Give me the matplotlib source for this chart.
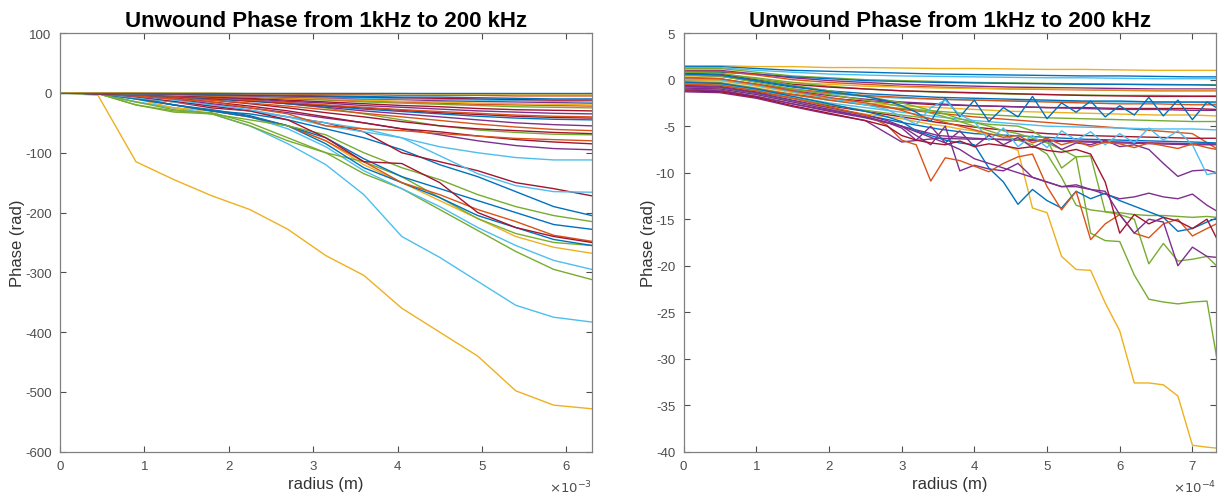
import matplotlib
matplotlib.use("Agg")
import matplotlib.pyplot as plt

plt.rcParams["font.family"] = ["Liberation Sans", "DejaVu Sans"]
plt.rcParams["axes.unicode_minus"] = False

# MATLAB default colour order
BLUE, ORANGE, YELLOW, PURPLE = "#0072BD", "#D95319", "#EDB120", "#7E2F8E"
GREEN, CYAN, RED = "#77AC30", "#4DBEEE", "#A2142F"

TITLE = "Unwound Phase from 1kHz to 200 kHz"

# ---------------- left panel: radius in units of 1e-3 m ----------------
L_X = [0, 0.45, 0.9, 1.35, 1.8, 2.25, 2.7, 3.15, 3.6, 4.05, 4.5, 4.95, 5.4, 5.85, 6.3]

L_LINES = [
    (YELLOW, [0, -4, -115, -145, -172, -195, -228, -272, -305, -360, -400, -440, -498, -522, -528]),
    (CYAN,   [0, -2, -15, -25, -35, -55, -85, -120, -170, -240, -275, -315, -355, -375, -383]),
    (GREEN,  [0, -1, -20, -30, -33, -50, -75, -100, -135, -160, -195, -230, -265, -295, -312]),
    (CYAN,   [0, -1, -15, -25, -30, -40, -60, -90, -130, -160, -190, -225, -255, -280, -295]),
    (YELLOW, [0, -1, -10, -25, -30, -40, -55, -80, -120, -150, -180, -210, -240, -258, -268]),
    (GREEN,  [0, -1, -20, -32, -35, -55, -80, -100, -115, -140, -175, -210, -235, -250, -255]),
    (BLUE,   [0, -1, -8, -20, -28, -38, -55, -85, -125, -150, -175, -205, -225, -245, -255]),
    (ORANGE, [0, -1, -8, -20, -30, -40, -55, -80, -115, -150, -170, -195, -215, -238, -248]),
    (BLUE,   [0, -1, -10, -20, -30, -40, -55, -75, -110, -140, -160, -180, -200, -220, -228]),
    (GREEN,  [0, -1, -15, -28, -35, -45, -55, -70, -100, -125, -145, -170, -190, -205, -215]),
    (BLUE,   [0, -1, -10, -20, -30, -35, -45, -60, -75, -95, -120, -140, -165, -190, -205]),
    (RED,    [0, -1, -8, -15, -25, -30, -40, -50, -65, -100, -115, -130, -150, -160, -172]),
    (CYAN,   [0, -1, -8, -15, -22, -30, -40, -50, -60, -75, -105, -135, -155, -165, -166]),
    (RED,    [0, -1, -6, -14, -22, -30, -45, -75, -115, -118, -150, -200, -225, -240, -250]),
    (CYAN,   [0, -1, -5, -12, -20, -28, -40, -55, -65, -75, -90, -100, -108, -112, -112]),
    (PURPLE, [0, -1, -5, -10, -18, -25, -33, -42, -50, -60, -70, -80, -88, -93, -95]),
    (RED,    [0, -1, -4, -8, -15, -22, -30, -40, -50, -60, -65, -72, -78, -82, -85]),
    (ORANGE, [0, -1, -5, -10, -15, -25, -35, -55, -60, -63, -68, -72, -76, -78, -80]),
    (GREEN,  [0, -1, -2, -4, -8, -12, -18, -25, -35, -45, -55, -62, -66, -69, -70]),
    (RED,    [0, -1, -3, -6, -12, -18, -25, -33, -40, -48, -55, -60, -63, -66, -68]),
    (ORANGE, [0, -1, -3, -7, -12, -17, -22, -28, -34, -40, -46, -52, -57, -61, -63]),
    (PURPLE, [0, -1, -2, -5, -8, -12, -18, -24, -30, -35, -40, -45, -50, -53, -55]),
    (BLUE,   [0, -1, -3, -6, -10, -14, -18, -22, -27, -31, -35, -39, -42, -44, -45]),
    (RED,    [0, -1, -3, -5, -9, -13, -17, -21, -25, -29, -33, -36, -39, -41, -42]),
    (ORANGE, [0, -1, -3, -5, -8, -12, -16, -20, -24, -28, -31, -34, -37, -39, -40]),
    (PURPLE, [0, -1, -2, -4, -7, -10, -14, -17, -21, -24, -27, -30, -32, -34, -35]),
    (RED,    [0, -1, -2, -4, -6, -9, -12, -15, -18, -21, -23, -26, -28, -29, -30]),
    (GREEN,  [0, 0, -2, -3, -5, -7, -10, -12, -15, -17, -19, -21, -23, -24, -25]),
    (ORANGE, [0, 0, -1, -3, -5, -7, -9, -11, -13, -15, -17, -19, -20, -21, -22]),
    (YELLOW, [0, 0, -1, -3, -4, -6, -8, -10, -12, -14, -15, -17, -18, -19, -20]),
    (PURPLE, [0, 0, -1, -2, -4, -5, -7, -8, -10, -11, -13, -14, -15, -16, -17]),
    (CYAN,   [0, 0, -1, -2, -3, -4, -6, -7, -9, -10, -11, -12, -13, -14, -15]),
    (RED,    [0, 0, -1, -2, -3, -4, -5, -6, -7, -8, -9, -10, -11, -12, -12]),
    (BLUE,   [0, 0, -1, -1, -2, -3, -4, -5, -6, -7, -7, -8, -9, -10, -10]),
    (ORANGE, [0, 0, 0, -1, -1, -2, -2, -3, -3, -4, -4, -4, -5, -5, -5]),
    (YELLOW, [0, 0, 0, 0, 0, -1, -1, -1, -1, -1, -2, -2, -2, -2, -2]),
    (BLUE,   [0, 0, 0, 0, 0, 0, 0, 0, 0, 0, 0, 0, 0, 0, 0]),
]

# ---------------- right panel: radius in units of 1e-4 m ----------------
R_X = [0, 0.5, 1.0, 1.5, 2.0, 2.5, 3.0, 3.5, 4.0, 4.5, 5.0, 5.5, 6.0, 6.5, 7.0, 7.33]

R_SMOOTH = [
    (YELLOW, [1.5, 1.5, 1.4, 1.4, 1.3, 1.3, 1.25, 1.2, 1.2, 1.15, 1.1, 1.1, 1.05, 1.0, 1.0, 1.0]),
    (BLUE,   [1.4, 1.4, 1.2, 1.0, 0.9, 0.8, 0.7, 0.6, 0.55, 0.5, 0.45, 0.4, 0.4, 0.35, 0.3, 0.3]),
    (CYAN,   [1.3, 1.3, 1.0, 0.8, 0.6, 0.5, 0.4, 0.35, 0.3, 0.25, 0.2, 0.2, 0.15, 0.1, 0.1, 0.1]),
    (GREEN,  [1.2, 1.2, 0.8, 0.4, 0.2, 0.0, -0.1, -0.2, -0.3, -0.35, -0.4, -0.45, -0.5, -0.5, -0.55, -0.55]),
    (BLUE,   [0.8, 0.8, 0.6, 0.3, 0.1, -0.1, -0.2, -0.3, -0.35, -0.4, -0.45, -0.5, -0.5, -0.55, -0.55, -0.6]),
    (PURPLE, [1.0, 1.0, 0.6, 0.2, -0.1, -0.3, -0.5, -0.6, -0.7, -0.8, -0.85, -0.9, -0.95, -1.0, -1.0, -1.0]),
    (ORANGE, [0.9, 0.9, 0.5, 0.0, -0.3, -0.5, -0.7, -0.8, -0.9, -1.0, -1.05, -1.1, -1.15, -1.2, -1.2, -1.2]),
    (YELLOW, [0.3, 0.3, 0.0, -0.3, -0.5, -0.7, -0.8, -0.9, -0.95, -1.0, -1.0, -1.05, -1.1, -1.1, -1.1, -1.1]),
    (GREEN,  [0.6, 0.6, 0.2, -0.3, -0.7, -1.0, -1.2, -1.35, -1.45, -1.55, -1.6, -1.65, -1.7, -1.7, -1.75, -1.75]),
    (RED,    [0.7, 0.6, 0.0, -0.5, -0.8, -1.0, -1.2, -1.3, -1.4, -1.5, -1.6, -1.7, -1.75, -1.8, -1.8, -1.8]),
    (CYAN,   [-0.1, -0.1, -0.6, -1.1, -1.5, -1.8, -2.0, -2.1, -2.2, -2.25, -2.3, -2.35, -2.4, -2.4, -2.45, -2.5]),
    (BLUE,   [0.5, 0.4, -0.2, -0.8, -1.2, -1.5, -1.7, -1.9, -2.0, -2.1, -2.2, -2.3, -2.3, -2.4, -2.4, -2.4]),
    (ORANGE, [0.0, 0.0, -0.5, -1.0, -1.4, -1.7, -1.9, -2.1, -2.2, -2.3, -2.4, -2.5, -2.6, -2.6, -2.7, -2.7]),
    (RED,    [-0.5, -0.6, -1.1, -1.6, -2.0, -2.3, -2.5, -2.7, -2.8, -2.9, -3.0, -3.0, -3.1, -3.1, -3.1, -3.2]),
    (PURPLE, [0.2, 0.1, -0.5, -1.2, -1.7, -2.1, -2.4, -2.6, -2.8, -2.9, -3.0, -3.1, -3.2, -3.2, -3.3, -3.3]),
    (YELLOW, [0.0, -0.1, -0.7, -1.4, -2.0, -2.5, -2.8, -3.0, -3.2, -3.4, -3.5, -3.6, -3.7, -3.8, -3.8, -3.9]),
    (GREEN,  [-0.2, -0.3, -0.9, -1.6, -2.2, -2.7, -3.1, -3.4, -3.7, -3.9, -4.1, -4.2, -4.3, -4.4, -4.5, -4.5]),
    (ORANGE, [-0.3, -0.4, -1.0, -1.6, -2.2, -2.7, -3.2, -3.6, -4.0, -4.3, -4.6, -4.9, -5.2, -5.5, -5.8, -7.4]),
    (CYAN,   [-0.4, -0.5, -1.1, -1.8, -2.5, -3.0, -3.5, -4.0, -4.4, -4.7, -5.0, -5.1, -5.2, -5.3, -5.3, -5.4]),
    (RED,    [-0.6, -0.7, -1.3, -2.0, -2.8, -3.4, -4.0, -4.6, -5.1, -5.5, -5.8, -6.0, -6.1, -6.2, -6.3, -6.3]),
    (BLUE,   [-0.8, -0.9, -1.5, -2.3, -3.1, -3.8, -4.6, -5.3, -5.8, -6.0, -6.2, -6.4, -6.5, -6.6, -6.7, -6.8]),
    (PURPLE, [-1.0, -1.1, -1.8, -2.6, -3.4, -4.1, -5.0, -6.0, -6.3, -6.5, -6.6, -6.7, -6.8, -6.9, -7.0, -7.0]),
    (PURPLE, [-1.3, -1.4, -2.0, -2.9, -3.7, -4.4, -6.7, -6.3, -6.4, -6.4, -6.5, -6.6, -6.7, -6.8, -6.9, -6.9]),
]

R_JX = [0, 0.5, 1.0, 1.5, 2.0, 2.5, 2.8, 3.0, 3.2, 3.4, 3.6, 3.8, 4.0, 4.2, 4.4,
        4.6, 4.8, 5.0, 5.2, 5.4, 5.6, 5.8, 6.0, 6.2, 6.4, 6.6, 6.8, 7.0, 7.2, 7.33]

R_JAGGED = [
    (YELLOW, [-0.9, -1.0, -1.6, -2.4, -3.1, -3.7, -4.0, -4.2, -4.5, -4.8, -5.0, -5.3, -5.5, -6.0, -7.0,
              -7.6, -13.8, -14.3, -19.0, -20.4, -20.5, -24.0, -27.0, -32.6, -32.6, -32.8, -34.0, -39.3, -39.5, -39.6]),
    (GREEN,  [-0.5, -0.6, -1.2, -2.0, -2.7, -3.3, -3.6, -3.8, -4.0, -4.2, -4.4, -4.5, -4.6, -4.8, -4.9,
              -5.0, -5.5, -6.5, -9.5, -8.3, -16.5, -17.3, -17.4, -21.0, -23.6, -23.9, -24.1, -23.9, -23.8, -29.7]),
    (GREEN,  [0.5, 0.4, -0.3, -1.0, -1.6, -2.2, -2.6, -2.9, -3.2, -3.6, -4.0, -4.5, -5.0, -5.5, -6.0,
              -6.5, -7.0, -8.0, -10.5, -13.5, -14.0, -14.2, -14.5, -15.0, -19.8, -17.6, -19.5, -19.3, -19.0, -20.0]),
    (GREEN,  [0.8, 0.7, 0.1, -0.6, -1.2, -1.8, -2.2, -2.5, -2.9, -3.3, -3.7, -4.2, -4.6, -5.0, -5.5,
              -5.8, -6.3, -6.8, -7.5, -8.3, -8.2, -14.2, -14.3, -14.5, -14.6, -14.6, -14.7, -14.8, -14.7, -14.8]),
    (PURPLE, [-1.1, -1.2, -1.8, -2.6, -3.3, -4.0, -4.6, -5.2, -6.5, -5.0, -6.8, -5.5, -7.2, -6.0, -7.0,
              -6.2, -7.3, -6.5, -7.5, -6.8, -7.0, -6.5, -7.2, -7.0, -7.5, -9.0, -10.4, -9.8, -9.7, -10.0]),
    (PURPLE, [-0.7, -0.8, -1.4, -2.2, -3.0, -3.8, -4.4, -5.0, -6.0, -7.0, -5.0, -9.8, -9.2, -9.6, -9.8,
              -9.0, -10.5, -11.0, -11.5, -11.3, -11.8, -12.3, -12.8, -12.6, -12.2, -12.6, -12.8, -12.3, -13.5, -14.1]),
    (BLUE,   [-0.3, -0.4, -1.0, -1.8, -2.6, -3.4, -4.0, -4.5, -5.5, -6.0, -6.5, -6.8, -7.0, -9.5, -11.0,
              -13.4, -11.8, -13.0, -13.8, -12.0, -12.8, -12.2, -13.0, -13.6, -14.2, -14.8, -16.3, -16.0, -15.3, -14.9]),
    (ORANGE, [-0.5, -0.6, -1.2, -2.0, -2.9, -3.8, -4.9, -6.5, -7.0, -10.9, -8.4, -8.7, -9.3, -9.9, -9.0,
              -8.3, -8.0, -11.5, -14.0, -12.0, -17.2, -15.5, -14.5, -16.5, -17.0, -15.5, -15.0, -16.8, -16.0, -15.5]),
    (RED,    [-1.2, -1.3, -1.9, -2.8, -3.6, -4.4, -5.0, -6.0, -6.5, -6.8, -7.0, -6.6, -7.2, -6.9, -7.1,
              -7.4, -7.2, -7.6, -7.8, -7.5, -8.0, -11.0, -16.5, -14.5, -15.5, -14.8, -15.2, -16.0, -15.0, -17.0]),
    (PURPLE, [-0.9, -1.0, -1.6, -2.4, -3.2, -4.0, -4.6, -5.0, -5.6, -6.2, -6.8, -7.5, -8.5, -9.0, -9.5,
              -10.0, -10.5, -11.0, -11.5, -11.5, -11.8, -12.0, -14.5, -16.5, -15.0, -15.3, -20.0, -18.0, -19.0, -19.1]),
    (BLUE,   [0.6, 0.5, -0.1, -0.7, -1.3, -1.8, -2.3, -2.8, -3.5, -4.5, -2.0, -4.0, -2.2, -4.5, -3.0,
              -4.0, -1.8, -4.2, -2.5, -3.5, -2.3, -4.0, -2.8, -3.8, -1.9, -3.9, -2.2, -4.3, -2.4, -3.0]),
    (CYAN,   [0.1, 0.0, -0.6, -1.3, -2.0, -2.7, -3.2, -4.0, -4.8, -3.0, -2.2, -3.8, -4.5, -6.5, -5.2,
              -7.2, -6.0, -7.3, -5.5, -6.5, -5.6, -7.0, -5.8, -6.8, -5.2, -6.5, -5.5, -7.0, -10.2, -10.0]),
    (ORANGE, [0.2, 0.1, -0.5, -1.2, -1.9, -2.5, -2.9, -3.3, -3.8, -4.2, -4.6, -5.0, -5.4, -5.8, -6.2,
              -6.0, -6.8, -6.3, -7.0, -6.6, -7.2, -6.7, -6.9, -7.3, -6.8, -7.1, -7.4, -6.9, -7.3, -7.5]),
]


def style_axes(ax):
    ax.tick_params(direction="in", top=True, right=True, length=4, width=0.8,
                   colors="#4d4d4d", labelsize=9.5, pad=6)
    for sp in ax.spines.values():
        sp.set_color("#808080")
        sp.set_linewidth(0.9)
    ax.set_title(TITLE, fontsize=16, fontweight="bold", pad=5)
    ax.set_xlabel("radius (m)", fontsize=12, color="#333333", labelpad=3)
    ax.set_ylabel("Phase (rad)", fontsize=12, color="#333333", labelpad=0)


fig = plt.figure(figsize=(12.25, 5.02), dpi=100)
ax1 = fig.add_axes([0.049, 0.098, 0.434, 0.834])
ax2 = fig.add_axes([0.558, 0.098, 0.435, 0.834])

for color, ys in L_LINES:
    ax1.plot(L_X, ys, color=color, linewidth=1.0)
ax1.set_xlim(0, 6.3)
ax1.set_ylim(-600, 100)
ax1.set_xticks(range(0, 7))
ax1.set_yticks(range(-600, 101, 100))
style_axes(ax1)
ax1.text(1.0, -0.085, r"$\times10^{-3}$", transform=ax1.transAxes, ha="right",
         va="center", fontsize=9.5, color="#4d4d4d")

for color, ys in R_SMOOTH:
    ax2.plot(R_X, ys, color=color, linewidth=1.0)
for color, ys in R_JAGGED:
    ax2.plot(R_JX, ys, color=color, linewidth=1.0)
ax2.set_xlim(0, 7.33)
ax2.set_ylim(-40, 5)
ax2.set_xticks(range(0, 8))
ax2.set_yticks(range(-40, 6, 5))
style_axes(ax2)
ax2.text(1.0, -0.085, r"$\times10^{-4}$", transform=ax2.transAxes, ha="right",
         va="center", fontsize=9.5, color="#4d4d4d")

fig.savefig("out.png", dpi=100, facecolor="white")
